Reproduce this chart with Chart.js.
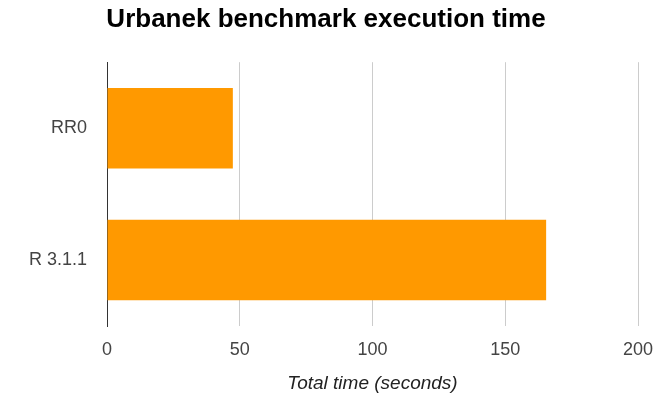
<!DOCTYPE html>
<html>
<head>
<meta charset="utf-8">
<script src="https://cdn.jsdelivr.net/npm/chart.js@4"></script>
<style>
    html, body { margin: 0; padding: 0; background: #fff; }
    #wrap { width: 664px; height: 396px; }
</style>
</head>
<body>
<div id="wrap"><canvas id="benchChart"></canvas></div>
<script>
const categories = ["RR0", "R 3.1.1"];
const totalSeconds = [47.4, 165.4];
const xTicks = [0, 50, 100, 150, 200];

document.addEventListener("DOMContentLoaded", () => {
    const ctx = document.getElementById("benchChart").getContext("2d");

    new Chart(ctx, {
        type: "bar",
        data: {
            labels: categories,
            datasets: [
                {
                    label: "Total time",
                    data: totalSeconds,
                    backgroundColor: "#ff9900",
                    borderWidth: 0,
                    categoryPercentage: 1,
                    barPercentage: 0.61
                }
            ]
        },
        options: {
            indexAxis: "y",
            responsive: true,
            maintainAspectRatio: false,
            animation: false,
            // left/right padding also shifts the title centre to x ~326
            layout: { padding: { left: 14, right: 26, top: 0, bottom: 0 } },
            plugins: {
                legend: { display: false },
                tooltip: { enabled: false },
                title: {
                    display: true,
                    text: "Urbanek benchmark execution time",
                    color: "#000",
                    font: { family: "Liberation Sans, Arial", size: 26, weight: "bold" },
                    padding: { top: 4, bottom: 27 }
                }
            },
            scales: {
                x: {
                    min: 0,
                    max: 200,
                    afterBuildTicks: (scale) => {
                        scale.ticks = xTicks.map(v => ({ value: v }));
                    },
                    afterFit: (scale) => {
                        scale.height = 70;
                        scale.paddingLeft = 0;
                        scale.paddingRight = 0;
                    },
                    grid: { color: "#cccccc", lineWidth: 1, drawTicks: false },
                    border: { display: false },
                    ticks: {
                        color: "#444",
                        padding: 13,
                        font: { family: "Liberation Sans, Arial", size: 18 }
                    },
                    title: {
                        display: true,
                        text: "Total time (seconds)",
                        color: "#222",
                        font: { family: "Liberation Sans, Arial", size: 19, style: "italic" },
                        padding: { top: 6, bottom: 1 }
                    }
                },
                y: {
                    afterFit: (scale) => { scale.width = 93; },
                    grid: { display: false, drawTicks: false },
                    border: { display: true, color: "#333", width: 1 },
                    ticks: {
                        color: "#444",
                        padding: 20,
                        font: { family: "Liberation Sans, Arial", size: 18 }
                    }
                }
            }
        }
    });
});
</script>
</body>
</html>
